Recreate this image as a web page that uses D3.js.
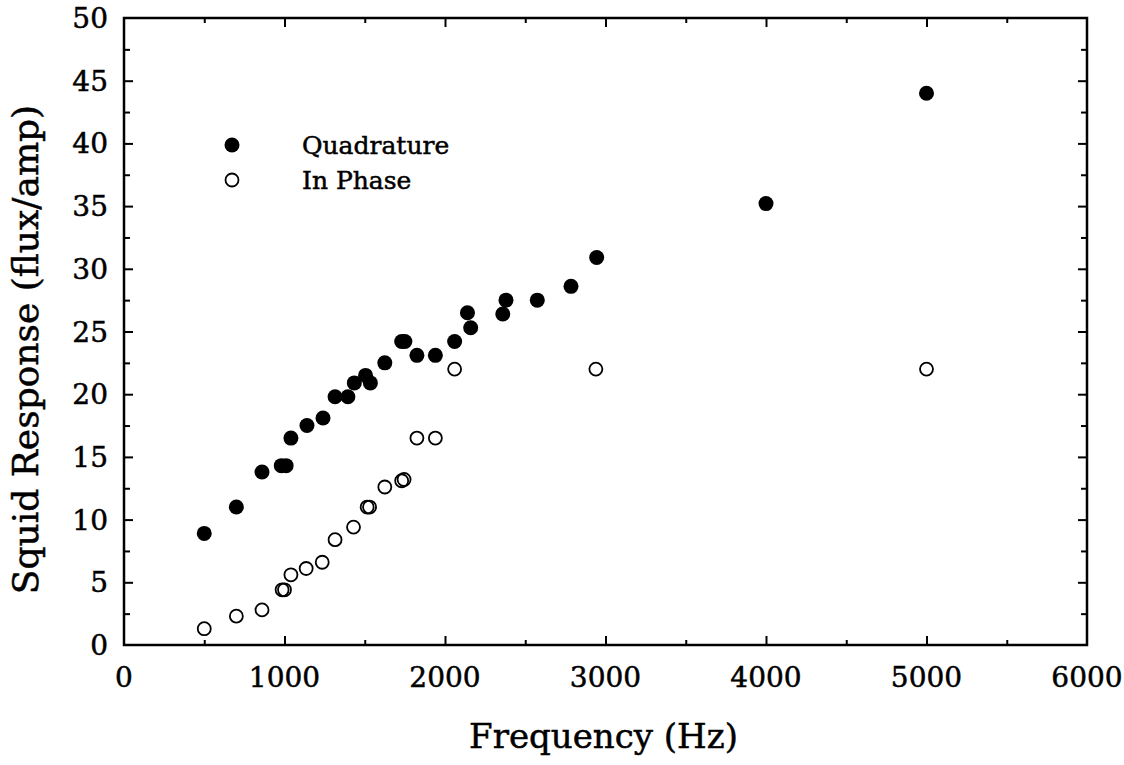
<!DOCTYPE html>
<html>
<head>
<meta charset="utf-8">
<script src="https://cdn.jsdelivr.net/npm/d3@7"></script>
<style>
  body { margin: 0; background: #fff; }
  text { font-family: "DejaVu Serif", serif; fill: #000; stroke: #000; stroke-width: 0.5px; }
</style>
</head>
<body>
<div id="chart"></div>
<script>
// data
const quadFreq = [500, 700, 860, 980, 1010, 1040, 1140, 1240, 1315, 1395, 1435, 1505, 1535, 1625, 1730, 1750, 1825, 1940, 2060, 2140, 2160, 2360, 2380, 2575, 2785, 2945, 4000, 5000];
const quadResp = [8.9, 11.0, 13.8, 14.3, 14.3, 16.5, 17.5, 18.1, 19.8, 19.8, 20.9, 21.5, 20.9, 22.5, 24.2, 24.2, 23.1, 23.1, 24.2, 26.5, 25.3, 26.4, 27.5, 27.5, 28.6, 30.9, 35.2, 44.0];

const phaseFreq = [500, 700, 860, 985, 1000, 1040, 1135, 1235, 1315, 1430, 1515, 1530, 1625, 1730, 1745, 1825, 1940, 2060, 2940, 5000];
const phaseResp = [1.3, 2.3, 2.8, 4.4, 4.4, 5.6, 6.1, 6.6, 8.4, 9.4, 11.0, 11.0, 12.6, 13.1, 13.2, 16.5, 16.5, 22.0, 22.0, 22.0];

const xTicks = [0, 1000, 2000, 3000, 4000, 5000, 6000];
const yTicks = [0, 5, 10, 15, 20, 25, 30, 35, 40, 45, 50];
const legendNames = ["Quadrature", "In Phase"];

// set the dimensions and margins of the graph
const margin = {top: 18, right: 37, bottom: 120, left: 124},
    width = 1124 - margin.left - margin.right,
    height = 765 - margin.top - margin.bottom;

const svg = d3.select("#chart")
  .append("svg")
    .attr("width", 1124)
    .attr("height", 765)
  .append("g")
    .attr("transform", `translate(${margin.left},${margin.top})`);

const x = d3.scaleLinear().domain([0, 6000]).range([0, width]);
const y = d3.scaleLinear().domain([0, 50]).range([height, 0]);

const minorX = d3.range(500, 6000, 1000);
const minorY = d3.range(2.5, 50, 5);

// tick marks point inwards on all four sides
function ticksG(axis, transform) {
  const g = svg.append("g").attr("transform", transform).call(axis);
  g.select(".domain").remove();
  g.selectAll("line").attr("stroke", "#000").attr("stroke-width", 2);
  return g;
}

// bottom
ticksG(d3.axisBottom(x).tickValues(xTicks.slice(1, -1)).tickSize(-9).tickFormat(""), `translate(0,${height})`);
ticksG(d3.axisBottom(x).tickValues(minorX).tickSize(-5).tickFormat(""), `translate(0,${height})`);
// top
ticksG(d3.axisTop(x).tickValues(xTicks.slice(1, -1)).tickSize(-9).tickFormat(""), "translate(0,0)");
ticksG(d3.axisTop(x).tickValues(minorX).tickSize(-5).tickFormat(""), "translate(0,0)");
// left
ticksG(d3.axisLeft(y).tickValues(yTicks.slice(1, -1)).tickSize(-9).tickFormat(""), "translate(0,0)");
ticksG(d3.axisLeft(y).tickValues(minorY).tickSize(-6).tickFormat(""), "translate(0,0)");
// right
ticksG(d3.axisRight(y).tickValues(yTicks.slice(1, -1)).tickSize(-9).tickFormat(""), `translate(${width},0)`);
ticksG(d3.axisRight(y).tickValues(minorY).tickSize(-6).tickFormat(""), `translate(${width},0)`);

// frame
svg.append("rect")
  .attr("x", 0).attr("y", 0)
  .attr("width", width).attr("height", height)
  .attr("fill", "none").attr("stroke", "#000").attr("stroke-width", 2.5);

// tick labels
svg.append("g").selectAll("text")
  .data(xTicks)
  .join("text")
    .attr("x", d => x(d))
    .attr("y", height + 42)
    .attr("text-anchor", "middle")
    .style("font-size", "28px")
    .text(d => d);

svg.append("g").selectAll("text")
  .data(yTicks)
  .join("text")
    .attr("x", -16)
    .attr("y", d => y(d))
    .attr("dy", "0.36em")
    .attr("text-anchor", "end")
    .style("font-size", "28px")
    .text(d => d);

// axis titles
svg.append("text")
  .attr("x", width / 2 - 2)
  .attr("y", height + 103)
  .attr("text-anchor", "middle")
  .style("font-size", "34px")
  .text("Frequency (Hz)");

svg.append("text")
  .attr("transform", `translate(${-margin.left + 38},${height / 2 + 18}) rotate(-90)`)
  .attr("text-anchor", "middle")
  .style("font-size", "36px")
  .text("Squid Response (flux/amp)");

// points
svg.append("g").selectAll("circle")
  .data(phaseFreq.map((f, i) => [f, phaseResp[i]]))
  .join("circle")
    .attr("cx", d => x(d[0]))
    .attr("cy", d => y(d[1]))
    .attr("r", 6.5)
    .attr("fill", "none")
    .attr("stroke", "#000")
    .attr("stroke-width", 1.8);

svg.append("g").selectAll("circle")
  .data(quadFreq.map((f, i) => [f, quadResp[i]]))
  .join("circle")
    .attr("cx", d => x(d[0]))
    .attr("cy", d => y(d[1]))
    .attr("r", 7.5)
    .attr("fill", "#000");

// Handmade legend
const legend = svg.append("g").attr("transform", "translate(108,127)");
legend.append("circle").attr("cx", 0).attr("cy", 0).attr("r", 7.5).attr("fill", "#000");
legend.append("circle").attr("cx", 0).attr("cy", 35).attr("r", 6.5)
  .attr("fill", "none").attr("stroke", "#000").attr("stroke-width", 1.8);
legend.selectAll("text")
  .data(legendNames)
  .join("text")
    .attr("x", 70)
    .attr("y", (d, i) => i * 35)
    .attr("dy", "0.36em")
    .style("font-size", "25px")
    .text(d => d);
</script>
</body>
</html>
